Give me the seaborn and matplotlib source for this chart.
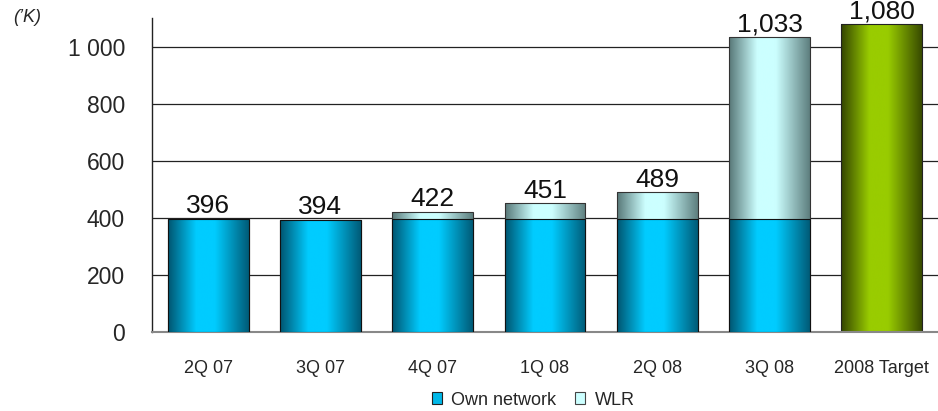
import numpy as np
import pandas as pd
import matplotlib
matplotlib.use("Agg")
import matplotlib.pyplot as plt
import matplotlib.patches as mpatches
from matplotlib.colors import to_rgb
import seaborn as sns

# ---- data ----
categories = ["2Q 07", "3Q 07", "4Q 07", "1Q 08", "2Q 08", "3Q 08", "2008 Target"]
own_network = [396, 394, 396, 397, 397, 397, 0]
wlr = [0, 0, 26, 54, 92, 636, 0]
target = [0, 0, 0, 0, 0, 0, 1080]
bar_labels = ["396", "394", "422", "451", "489", "1,033", "1,080"]
yticks = [0, 200, 400, 600, 800, 1000]
ytick_labels = ["0", "200", "400", "600", "800", "1 000"]

sns.set_theme(style="white")
plt.rcParams["font.family"] = ["Liberation Sans", "DejaVu Sans"]

fig = plt.figure(figsize=(9.38, 4.11), dpi=100)
ax = fig.add_axes([152 / 938, 1 - 332 / 411, 786 / 938, 314 / 411])

df = pd.DataFrame({
    "cat": categories,
    "own": own_network,
    "total": [o + w for o, w in zip(own_network, wlr)],
    "target": target,
})

W = 0.72
sns.barplot(data=df, x="cat", y="target", color="#99CC00", width=W, ax=ax,
            edgecolor="#222222", linewidth=0.8, saturation=1, zorder=2)
n_t = len(ax.patches)
sns.barplot(data=df, x="cat", y="total", color="#CCFFFF", width=W, ax=ax,
            edgecolor="#333333", linewidth=0.8, saturation=1, zorder=2)
n_w = len(ax.patches)
sns.barplot(data=df, x="cat", y="own", color="#00CCFF", width=W, ax=ax,
            edgecolor="#111111", linewidth=0.8, saturation=1, zorder=3)

styles = {
    "t": (to_rgb("#334400"), to_rgb("#99CC00")),
    "w": (to_rgb("#587878"), to_rgb("#CCFFFF")),
    "o": (to_rgb("#005570"), to_rgb("#00CCFF")),
}
tt = np.linspace(0, 1, 200)
prof = np.interp(tt, [0, 0.35, 0.58, 1.0], [0.0, 1.0, 1.0, 0.05])

patches = list(ax.patches)
for i, p in enumerate(patches):
    h = p.get_height()
    if h <= 0:
        p.set_visible(False)
        continue
    key = "t" if i < n_t else ("w" if i < n_w else "o")
    dark, light = np.array(styles[key][0]), np.array(styles[key][1])
    img = dark[None, :] + prof[:, None] * (light - dark)[None, :]
    img = img[None, :, :]
    x, y, w = p.get_x(), p.get_y(), p.get_width()
    im = ax.imshow(img, extent=[x, x + w, y, y + h], aspect="auto",
                   interpolation="bicubic", zorder=p.get_zorder() - 0.01)
    im.set_clip_path(p)
    p.set_facecolor("none")

# labels above bars
tops = [o + w + t for o, w, t in zip(own_network, wlr, target)]
for i, (v, lab) in enumerate(zip(tops, bar_labels)):
    ax.text(i, v + 2, lab, ha="center", va="bottom", fontsize=19, color="#111111",
            zorder=5, clip_on=False)

ax.set_xlim(-0.5, 6.5)
ax.set_ylim(0, 1100)
ax.set_yticks(yticks)
ax.set_yticklabels(ytick_labels, fontsize=16.5)
ax.set_xticks(range(len(categories)))
ax.set_xticklabels(categories, fontsize=13)
ax.set_xticks(np.arange(-0.5, 7, 1), minor=True)
ax.tick_params(axis="x", which="major", length=0, pad=20)
ax.tick_params(axis="x", which="minor", length=5, direction="out", color="#555555", width=1)
ax.tick_params(axis="y", length=9, direction="inout", width=1, color="#222222", pad=15)
ax.set_xlabel("")
ax.set_ylabel("")

for yv in yticks[1:]:
    ax.axhline(yv, color="#222222", lw=0.9, zorder=1)

sns.despine(ax=ax, top=True, right=True)
ax.spines["left"].set_color("#222222")
ax.spines["left"].set_linewidth(1)
ax.spines["bottom"].set_color("#888888")
ax.spines["bottom"].set_linewidth(1.5)

fig.text(13 / 938, 1 - 18 / 411, "(\u2019K)", fontsize=13, style="italic", va="center", ha="left")

handles = [
    mpatches.Patch(facecolor="#00B8E8", edgecolor="#222222", lw=0.8, label="Own network"),
    mpatches.Patch(facecolor="#CCFFFF", edgecolor="#444444", lw=0.8, label="WLR"),
]
fig.legend(handles=handles, loc="center", bbox_to_anchor=(533 / 938, 1 - 400 / 411),
           ncol=2, frameon=False, fontsize=13, handlelength=0.6, handleheight=0.6,
           columnspacing=1.0, handletextpad=0.5, borderpad=0)

fig.savefig("out.png", dpi=100)
